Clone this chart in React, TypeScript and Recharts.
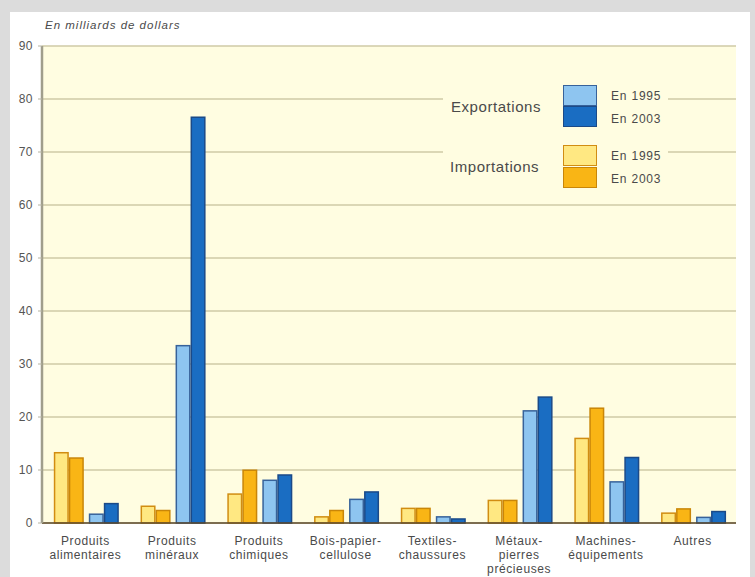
import { BarChart, Bar, XAxis, YAxis, CartesianGrid } from 'recharts';

const categories = [
  'Produits\nalimentaires',
  'Produits\nminéraux',
  'Produits\nchimiques',
  'Bois-papier-\ncellulose',
  'Textiles-\nchaussures',
  'Métaux-\npierres\nprécieuses',
  'Machines-\néquipements',
  'Autres',
];
const imp1995 = [13.4, 3.3, 5.6, 1.3, 2.9, 4.4, 16.1, 2.0];
const imp2003 = [12.4, 2.5, 10.1, 2.5, 2.9, 4.4, 21.8, 2.8];
const exp1995 = [1.8, 33.6, 8.2, 4.6, 1.3, 21.3, 7.9, 1.2];
const exp2003 = [3.8, 76.7, 9.2, 6.0, 0.9, 23.9, 12.5, 2.3];
const yTicks = [0, 10, 20, 30, 40, 50, 60, 70, 80, 90];

const data = categories.map((name, i) => ({
  name,
  imp1995: imp1995[i],
  imp2003: imp2003[i],
  exp1995: exp1995[i],
  exp2003: exp2003[i],
}));

const FONT = '"Liberation Sans", Arial, sans-serif';
const TEXT = '#4a4a4a';

const colors = {
  imp1995: { fill: '#ffe882', stroke: '#d18d12' },
  imp2003: { fill: '#f9b515', stroke: '#c98608' },
  exp1995: { fill: '#8ec5f0', stroke: '#37629a' },
  exp2003: { fill: '#1a6dc2', stroke: '#1b4a88' },
};

// imports pulled left, exports pushed right to open a gap between the pairs
const shifted = (dx: number, fill: string, stroke: string) => (props: any) => {
  const { x, y, width, height } = props;
  if (!height || height <= 0) return <g />;
  return (
    <rect
      x={x + dx + 0.75}
      y={y + 0.75}
      width={width - 1.5}
      height={height - 0.75}
      fill={fill}
      stroke={stroke}
      strokeWidth={1.5}
    />
  );
};

const CategoryTick = (props: any) => {
  const { x, y, payload } = props;
  const lines = String(payload.value).split('\n');
  return (
    <text
      x={x}
      y={y + 13.5}
      textAnchor="middle"
      fontFamily={FONT}
      fontSize={12}
      letterSpacing={0.6}
      fill={TEXT}
    >
      {lines.map((l, i) => (
        <tspan key={i} x={x} dy={i === 0 ? 0 : 14}>
          {l}
        </tspan>
      ))}
    </text>
  );
};

const Swatch = ({ top, c }: { top: number; c: { fill: string; stroke: string } }) => (
  <div
    style={{
      position: 'absolute',
      left: 120,
      top,
      width: 32,
      height: 19,
      background: c.fill,
      border: `1.5px solid ${c.stroke}`,
    }}
  />
);

const SwatchLabel = ({ top, text }: { top: number; text: string }) => (
  <div style={{ position: 'absolute', left: 168, top, fontSize: 12, letterSpacing: 0.8, color: TEXT }}>{text}</div>
);

const GroupLabel = ({ top, left, text }: { top: number; left: number; text: string }) => (
  <div style={{ position: 'absolute', left, top, fontSize: 15, letterSpacing: 0.55, color: TEXT }}>{text}</div>
);

const LegendBox = () => (
  <div
    style={{
      position: 'absolute',
      left: 443,
      top: 78,
      width: 225,
      height: 114,
      background: '#fffde1',
      fontFamily: FONT,
    }}
  >
    <GroupLabel left={8} top={20} text="Exportations" />
    <Swatch top={7} c={colors.exp1995} />
    <Swatch top={28} c={colors.exp2003} />
    <SwatchLabel top={11} text="En 1995" />
    <SwatchLabel top={34} text="En 2003" />
    <GroupLabel left={7} top={80} text="Importations" />
    <Swatch top={67} c={colors.imp1995} />
    <Swatch top={89} c={colors.imp2003} />
    <SwatchLabel top={71} text="En 1995" />
    <SwatchLabel top={94} text="En 2003" />
  </div>
);

export default function App() {
  return (
    <div style={{ position: 'fixed', left: 0, top: 0, width: 755, height: 577, background: '#dcdcdc', overflow: 'hidden' }}>
      <div style={{ position: 'absolute', left: 10, top: 12, width: 740, height: 565, background: '#ffffff' }} />
      <div
        style={{
          position: 'absolute',
          left: 45,
          top: 19,
          fontFamily: FONT,
          fontSize: 11.5,
          letterSpacing: 1,
          fontStyle: 'italic',
          color: TEXT,
        }}
      >
        En milliards de dollars
      </div>
      <div style={{ position: 'absolute', left: 0, top: 0 }}>
        <BarChart
          width={755}
          height={577}
          data={data}
          margin={{ top: 46, right: 19, bottom: 0, left: 0 }}
          barCategoryGap="16.5%"
          barGap={0}
        >
          <CartesianGrid vertical={false} stroke="#cfcaa6" strokeWidth={1.5} fill="#fffde1" />
          <XAxis
            dataKey="name"
            height={54}
            interval={0}
            tickLine={false}
            axisLine={{ stroke: '#5c4a2e', strokeWidth: 1.5 }}
            tick={<CategoryTick />}
          />
          <YAxis
            width={42}
            domain={[0, 90]}
            ticks={yTicks}
            interval={0}
            axisLine={{ stroke: '#a09e8c', strokeWidth: 2.5 }}
            tickLine={{ stroke: '#b5b3a0' }}
            tickSize={4}
            tickMargin={5}
            tick={{ fontFamily: FONT, fontSize: 12, letterSpacing: 0.5, fill: '#555555' }}
          />
          <Bar dataKey="imp1995" isAnimationActive={false} shape={shifted(-2.5, colors.imp1995.fill, colors.imp1995.stroke)} />
          <Bar dataKey="imp2003" isAnimationActive={false} shape={shifted(-2.5, colors.imp2003.fill, colors.imp2003.stroke)} />
          <Bar dataKey="exp1995" isAnimationActive={false} shape={shifted(2.5, colors.exp1995.fill, colors.exp1995.stroke)} />
          <Bar dataKey="exp2003" isAnimationActive={false} shape={shifted(2.5, colors.exp2003.fill, colors.exp2003.stroke)} />
        </BarChart>
      </div>
      <LegendBox />
    </div>
  );
}
